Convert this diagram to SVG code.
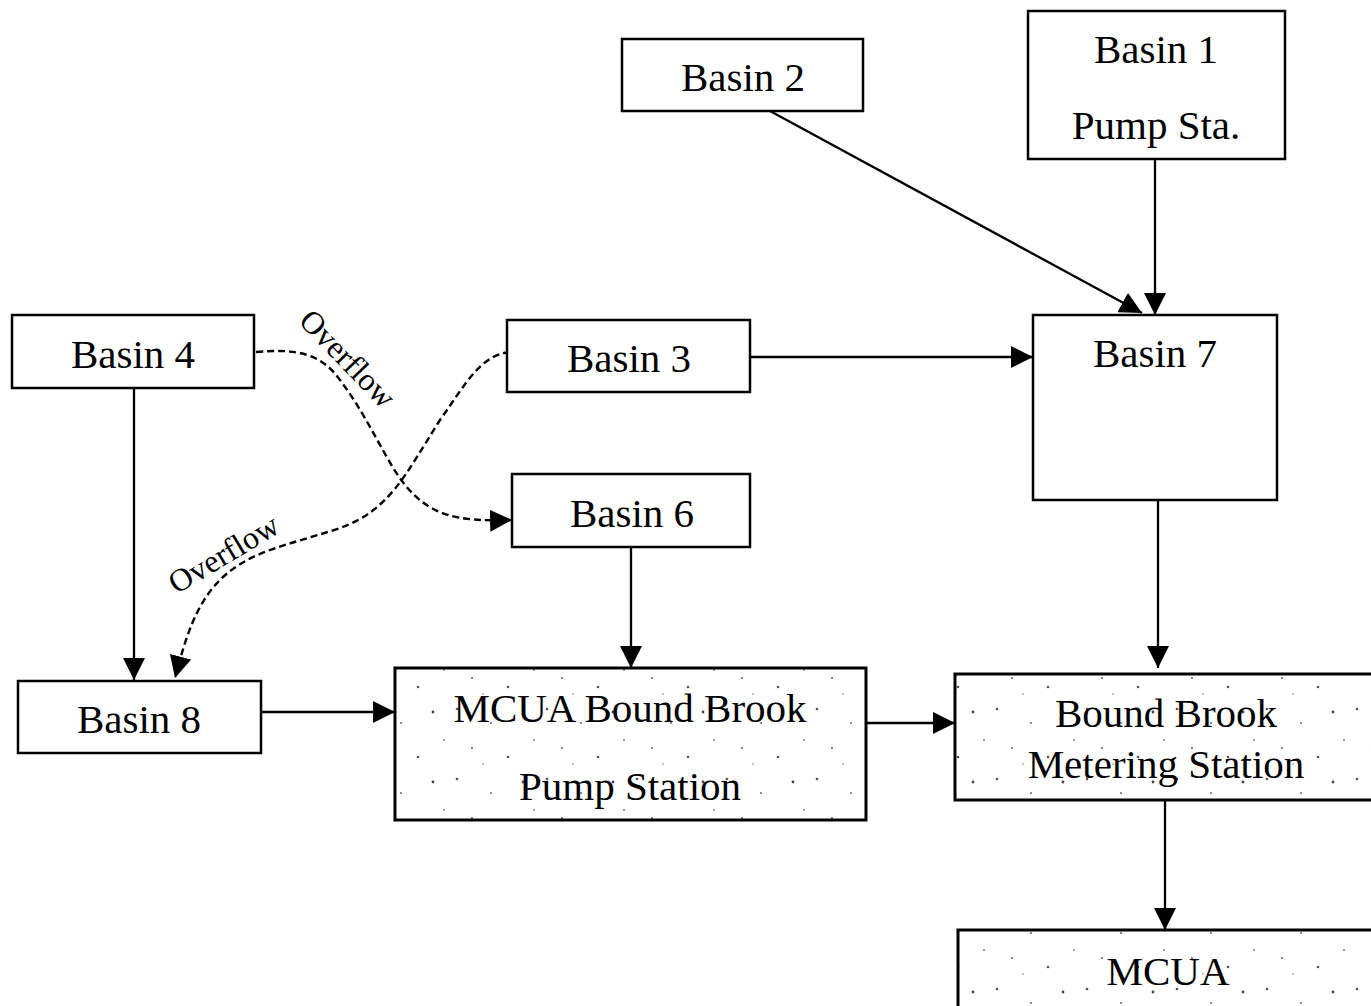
<svg xmlns="http://www.w3.org/2000/svg" width="1371" height="1006" viewBox="0 0 1371 1006">
<style>
.box{fill:#fff;stroke:#000;stroke-width:2.5}
.sbox{fill:url(#speck);stroke:#000;stroke-width:3}
.t{font-family:"Liberation Serif","Times New Roman",serif;font-size:41px;fill:#000;text-anchor:middle}
.ol{font-family:"Liberation Serif","Times New Roman",serif;font-size:32px;fill:#000;text-anchor:middle}
.c{fill:none;stroke:#000;stroke-width:2.3}
.d{fill:none;stroke:#000;stroke-width:2.4;stroke-dasharray:7 4}
</style>
<defs>
<marker id="ah" viewBox="0 0 20 20" refX="20" refY="10" markerWidth="22" markerHeight="22" markerUnits="userSpaceOnUse" orient="auto">
<path d="M0,0 L20,10 L0,20 Z" fill="#000"/>
</marker>
<pattern id="speck" width="90" height="70" patternUnits="userSpaceOnUse">
<rect width="90" height="70" fill="#fff"/>
<circle cx="7" cy="9" r="1.3" fill="#555"/>
<circle cx="41" cy="23" r="1" fill="#666"/>
<circle cx="73" cy="12" r="1.4" fill="#444"/>
<circle cx="22" cy="48" r="1.1" fill="#666"/>
<circle cx="58" cy="57" r="1.3" fill="#555"/>
<circle cx="84" cy="40" r="0.9" fill="#777"/>
<circle cx="33" cy="64" r="0.8" fill="#777"/>
</pattern>
</defs>
<g id="connectors">
<path class="c" d="M770,111 L1142,313" marker-end="url(#ah)"/>
<path class="c" d="M1155,159 L1155,315" marker-end="url(#ah)"/>
<path class="c" d="M750,357 L1033,357" marker-end="url(#ah)"/>
<path class="c" d="M134,388 L134,680" marker-end="url(#ah)"/>
<path class="c" d="M261,712 L395,712" marker-end="url(#ah)"/>
<path class="c" d="M631,547 L631,668" marker-end="url(#ah)"/>
<path class="c" d="M866,723 L955,723" marker-end="url(#ah)"/>
<path class="c" d="M1158,500 L1158,668" marker-end="url(#ah)"/>
<path class="c" d="M1165,800 L1165,930" marker-end="url(#ah)"/>
<path class="d" d="M256,352 C300,348 322,355 340,380 C370,420 385,460 405,485 C430,515 455,522 512,520" marker-end="url(#ah)"/>
<path class="d" d="M510,352 C480,355 465,385 440,420 C405,475 390,510 340,528 C290,545 250,550 220,580 C195,605 185,640 175,678" marker-end="url(#ah)"/>
<text class="ol" transform="translate(340,366) rotate(46)">Overflow</text>
<text class="ol" transform="translate(229,563) rotate(-31)">Overflow</text>
</g>
<g id="basin2"><rect class="box" x="622" y="39" width="241" height="72"/><text class="t" x="743" y="91">Basin 2</text></g>
<g id="basin1"><rect class="box" x="1028" y="11" width="257" height="148"/><text class="t" x="1156" y="63">Basin 1</text><text class="t" x="1156" y="139">Pump Sta.</text></g>
<g id="basin4"><rect class="box" x="12" y="315" width="242" height="73"/><text class="t" x="133" y="368">Basin 4</text></g>
<g id="basin3"><rect class="box" x="507" y="320" width="243" height="72"/><text class="t" x="629" y="372">Basin 3</text></g>
<g id="basin7"><rect class="box" x="1033" y="315" width="244" height="185"/><text class="t" x="1155" y="367">Basin 7</text></g>
<g id="basin6"><rect class="box" x="512" y="474" width="238" height="73"/><text class="t" x="632" y="527">Basin 6</text></g>
<g id="basin8"><rect class="box" x="18" y="681" width="243" height="72"/><text class="t" x="139" y="733">Basin 8</text></g>
<g id="pump"><rect class="sbox" x="395" y="668" width="471" height="152"/><text class="t" x="630" y="722">MCUA Bound Brook</text><text class="t" x="630" y="800">Pump Station</text></g>
<g id="metering"><rect class="sbox" x="955" y="674" width="425" height="126"/><text class="t" x="1166" y="727">Bound Brook</text><text class="t" x="1166" y="778">Metering Station</text></g>
<g id="mcua"><rect class="sbox" x="958" y="930" width="425" height="85"/><text class="t" x="1168" y="985">MCUA</text></g>
</svg>
